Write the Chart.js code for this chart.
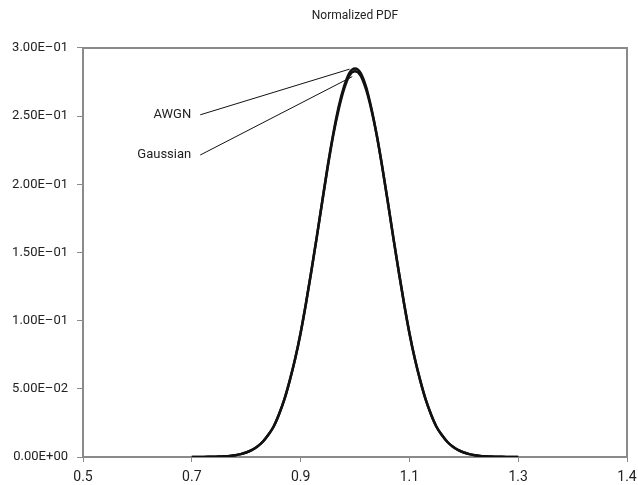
<!DOCTYPE html>
<html>
<head>
<meta charset="utf-8">
<script src="https://cdn.jsdelivr.net/npm/chart.js@4"></script>
<style>
  html, body { margin: 0; padding: 0; background: #fff; }
  #wrap { width: 638px; height: 485px; }
</style>
</head>
<body>
<div id="wrap"><canvas id="chart"></canvas></div>
<script>
const chartTitle = 'Normalized PDF';

const xValues = [
    0.70, 0.71, 0.72, 0.73, 0.74, 0.75, 0.76, 0.77, 0.78, 0.79,
    0.80, 0.81, 0.82, 0.83, 0.84, 0.85, 0.86, 0.87, 0.88, 0.89,
    0.90, 0.91, 0.92, 0.93, 0.94, 0.95, 0.96, 0.97, 0.98, 0.99,
    1.00, 1.01, 1.02, 1.03, 1.04, 1.05, 1.06, 1.07, 1.08, 1.09,
    1.10, 1.11, 1.12, 1.13, 1.14, 1.15, 1.16, 1.17, 1.18, 1.19,
    1.20, 1.21, 1.22, 1.23, 1.24, 1.25, 1.26, 1.27, 1.28, 1.29,
    1.30
];

const awgn = [
    0.00001, 0.00002, 0.00005, 0.0001, 0.0002, 0.0003, 0.0005, 0.0008, 0.0013, 0.0021,
    0.0033, 0.0051, 0.0076, 0.011, 0.016, 0.022, 0.031, 0.042, 0.056, 0.072,
    0.091, 0.113, 0.137, 0.162, 0.188, 0.214, 0.237, 0.257, 0.272, 0.282,
    0.285, 0.282, 0.272, 0.256, 0.236, 0.213, 0.188, 0.162, 0.137, 0.113,
    0.091, 0.072, 0.056, 0.042, 0.031, 0.022, 0.016, 0.011, 0.0075, 0.0050,
    0.0033, 0.0021, 0.0013, 0.0008, 0.0005, 0.0003, 0.0002, 0.0001, 0.00005, 0.00002,
    0.00001
];

const gaussian = [
    0.00001, 0.00002, 0.00005, 0.0001, 0.0002, 0.0003, 0.0005, 0.0008, 0.0013, 0.0021,
    0.0033, 0.0050, 0.0075, 0.011, 0.016, 0.022, 0.031, 0.042, 0.056, 0.072,
    0.091, 0.113, 0.137, 0.162, 0.188, 0.213, 0.236, 0.255, 0.270, 0.280,
    0.283, 0.280, 0.270, 0.255, 0.236, 0.213, 0.188, 0.162, 0.137, 0.113,
    0.091, 0.072, 0.056, 0.042, 0.031, 0.022, 0.016, 0.011, 0.0075, 0.0050,
    0.0033, 0.0021, 0.0013, 0.0008, 0.0005, 0.0003, 0.0002, 0.0001, 0.00005, 0.00002,
    0.00001
];

const xTickPositions = [0.5, 0.7, 0.9, 1.1, 1.3, 1.5];
const xTickLabels = ['0.5', '0.7', '0.9', '1.1', '1.3', '1.4'];
const yTickLabels = ['0.00E+00', '5.00E\u201302', '1.00E\u201301', '1.50E\u201301',
    '2.00E\u201301', '2.50E\u201301', '3.00E\u201301'];

// callout labels: text, label anchor (data coords), arrow tip (data coords)
const callouts = [
    { text: 'AWGN', at: [0.71, 0.251], tip: [0.99, 0.2845] },
    { text: 'Gaussian', at: [0.71, 0.2215], tip: [0.995, 0.279] }
];

const fontFamily = '"Liberation Sans Narrow", "Roboto", sans-serif';
const axisGrey = '#8a8a8a';

function toPoints(ys) {
    return xValues.map((x, i) => ({ x: x, y: ys[i] }));
}

const framePlugin = {
    id: 'frame',
    afterDraw(chart) {
        const { ctx, chartArea: a, scales } = chart;
        ctx.save();
        // top and right frame lines
        ctx.strokeStyle = axisGrey;
        ctx.lineWidth = 2;
        ctx.beginPath();
        ctx.moveTo(a.left, a.top);
        ctx.lineTo(a.right, a.top);
        ctx.lineTo(a.right, a.bottom);
        ctx.stroke();

        // title centred over the plot
        ctx.fillStyle = '#222';
        ctx.font = '12px ' + fontFamily;
        ctx.textAlign = 'center';
        ctx.textBaseline = 'middle';
        ctx.fillText(chartTitle, (a.left + a.right) / 2, 16);

        // callouts
        ctx.font = '13px ' + fontFamily;
        ctx.textAlign = 'right';
        ctx.strokeStyle = '#111';
        ctx.lineWidth = 1;
        callouts.forEach(c => {
            const lx = scales.x.getPixelForValue(c.at[0]);
            const ly = scales.y.getPixelForValue(c.at[1]);
            const tx = scales.x.getPixelForValue(c.tip[0]);
            const ty = scales.y.getPixelForValue(c.tip[1]);
            ctx.fillText(c.text, lx - 6, ly);
            ctx.beginPath();
            ctx.moveTo(lx + 3, ly);
            ctx.lineTo(tx, ty);
            ctx.stroke();
        });
        ctx.restore();
    }
};

new Chart(document.getElementById('chart'), {
    type: 'line',
    data: {
        datasets: [{
            label: 'AWGN',
            data: toPoints(awgn),
            borderColor: '#111',
            borderWidth: 2.5,
            pointRadius: 0,
            cubicInterpolationMode: 'monotone',
            fill: false
        }, {
            label: 'Gaussian',
            data: toPoints(gaussian),
            borderColor: '#111',
            borderWidth: 2.5,
            pointRadius: 0,
            cubicInterpolationMode: 'monotone',
            fill: false
        }]
    },
    options: {
        responsive: true,
        maintainAspectRatio: false,
        animation: false,
        layout: {
            padding: { top: 48, right: 11, left: 0, bottom: 0 }
        },
        plugins: {
            legend: { display: false },
            title: { display: false },
            tooltip: { enabled: false }
        },
        scales: {
            x: {
                type: 'linear',
                min: 0.5,
                max: 1.5,
                afterBuildTicks: scale => {
                    scale.ticks = xTickPositions.map(v => ({ value: v }));
                },
                afterFit: scale => {
                    scale.height = 28;
                    scale.paddingLeft = 0;
                    scale.paddingRight = 0;
                },
                border: { color: axisGrey, width: 2 },
                grid: { drawOnChartArea: false, color: axisGrey, tickLength: 5, lineWidth: 1 },
                ticks: {
                    color: '#222',
                    font: { family: fontFamily, size: 14 },
                    padding: 7,
                    maxRotation: 0,
                    autoSkip: false,
                    callback: (v, i) => xTickLabels[i]
                }
            },
            y: {
                min: 0,
                max: 0.3,
                afterBuildTicks: scale => {
                    scale.ticks = yTickLabels.map((t, i) => ({ value: i * 0.05 }));
                },
                afterFit: scale => { scale.width = 83; },
                border: { color: axisGrey, width: 2 },
                grid: { drawOnChartArea: false, color: axisGrey, tickLength: 6, lineWidth: 1 },
                ticks: {
                    color: '#222',
                    font: { family: fontFamily, size: 13 },
                    padding: 9,
                    callback: (v, i) => yTickLabels[i]
                }
            }
        }
    },
    plugins: [framePlugin]
});
</script>
</body>
</html>
